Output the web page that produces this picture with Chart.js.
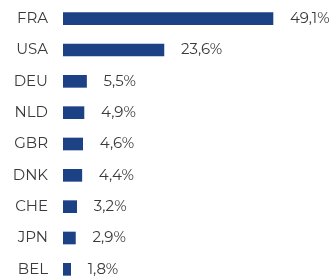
<!DOCTYPE html>
<html>
<head>
<meta charset="utf-8">
<script src="https://cdn.jsdelivr.net/npm/chart.js@4"></script>
<style>
  html, body { margin: 0; padding: 0; background: #fff; overflow: hidden; }
  canvas { display: block; }
</style>
</head>
<body>
<canvas id="myChart" width="332" height="285"></canvas>
<script>
const ctx = document.getElementById("myChart");

const countries = ["FRA", "USA", "DEU", "NLD", "GBR", "DNK", "CHE", "JPN", "BEL"];
const shares = [49.1, 23.6, 5.5, 4.9, 4.6, 4.4, 3.2, 2.9, 1.8];

const fontFamily = "Montserrat, 'Open Sans', sans-serif";
const barColor = "#1d4185";
const textColor = "#3a3a3a";

// percent labels to the right of each bar
const valueLabels = {
  id: "valueLabels",
  afterDatasetsDraw(chart) {
    const c = chart.ctx;
    const meta = chart.getDatasetMeta(0);
    c.save();
    c.font = "15px " + fontFamily;
    c.fillStyle = textColor;
    c.textBaseline = "middle";
    c.textAlign = "left";
    meta.data.forEach((bar, i) => {
      c.fillText(shares[i].toFixed(1).replace(".", ",") + "%", bar.x + 17, bar.y);
    });
    c.restore();
  }
};

const chart = new Chart(ctx, {
  type: "bar",
  data: {
    labels: countries,
    datasets: [{
      data: shares,
      backgroundColor: barColor,
      barThickness: 12
    }]
  },
  options: {
    indexAxis: "y",
    responsive: false,
    animation: false,
    layout: { padding: { top: 3, bottom: 0, left: 0, right: 0 } },
    plugins: {
      legend: { display: false },
      tooltip: { enabled: false }
    },
    scales: {
      x: {
        display: false,
        min: 0,
        max: 62.9
      },
      y: {
        afterFit: (scale) => {
          scale.width = 63;
          scale.paddingTop = 0;
          scale.paddingBottom = 0;
        },
        grid: { display: false },
        border: { display: false },
        ticks: {
          padding: 7,
          color: textColor,
          font: { size: 15, family: fontFamily }
        }
      }
    }
  },
  plugins: [valueLabels]
});
</script>
</body>
</html>
